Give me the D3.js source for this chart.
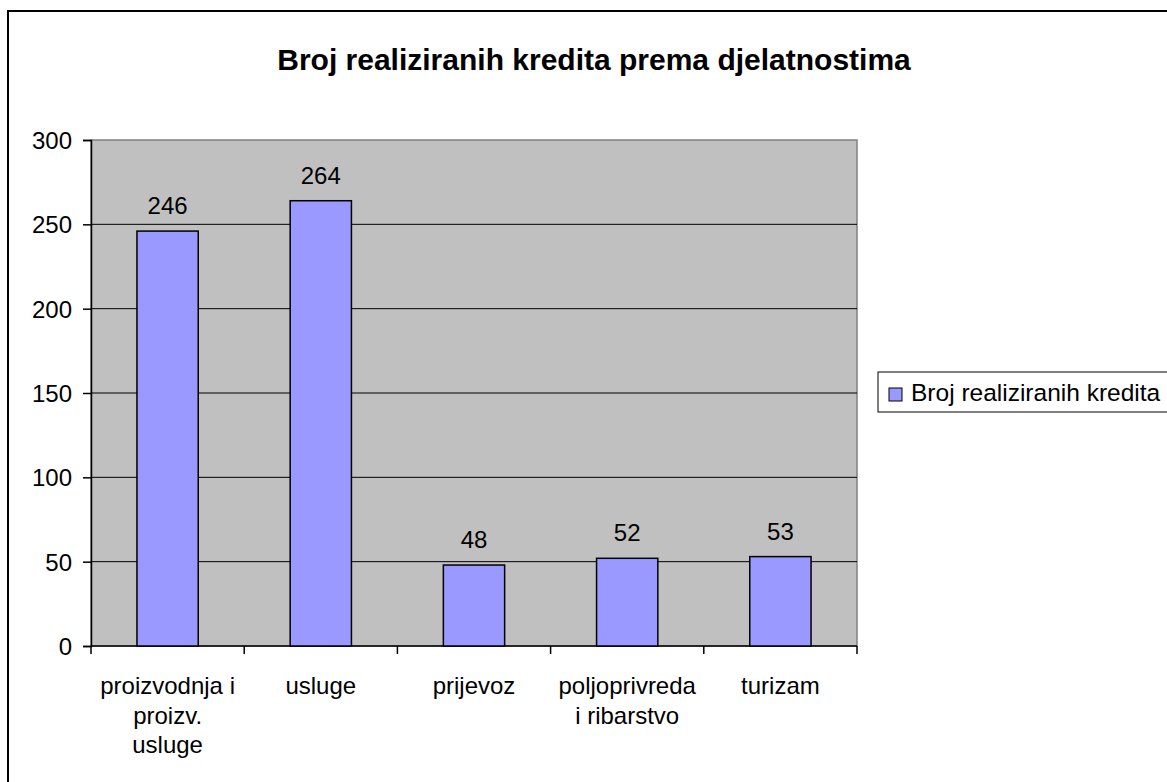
<!DOCTYPE html>
<html>
<head>
<meta charset="utf-8">
<script src="https://cdn.jsdelivr.net/npm/d3@7"></script>
<style>
  body { margin: 0; background: #fff; }
  svg text { font-family: "Liberation Sans", Arial, sans-serif; fill: #000; }
</style>
</head>
<body>
<svg id="chart" width="1167" height="782"></svg>
<script>
// data
const categories = [
  ["proizvodnja i", "proizv.", "usluge"],
  ["usluge"],
  ["prijevoz"],
  ["poljoprivreda", "i ribarstvo"],
  ["turizam"]
];
const values = [246, 264, 48, 52, 53];
const yTicks = [0, 50, 100, 150, 200, 250, 300];
const seriesName = "Broj realiziranih kredita";
const title = "Broj realiziranih kredita prema djelatnostima";

const svg = d3.select("#chart");
const plot = {left: 91, right: 857, top: 140, bottom: 646};

// outer frame
svg.append("rect")
  .attr("x", 8).attr("y", 11)
  .attr("width", 1200).attr("height", 800)
  .attr("fill", "none")
  .attr("stroke", "#000")
  .attr("stroke-width", 2);

svg.append("text")
  .attr("x", 594).attr("y", 70)
  .attr("text-anchor", "middle")
  .attr("font-weight", "bold")
  .attr("font-size", 30)
  .text(title);

const x = d3.scaleBand()
  .domain(d3.range(values.length))
  .range([plot.left, plot.right]);

const y = d3.scaleLinear()
  .domain([0, 300])
  .range([plot.bottom, plot.top]);

// plot area
svg.append("rect")
  .attr("x", plot.left).attr("y", plot.top)
  .attr("width", plot.right - plot.left)
  .attr("height", plot.bottom - plot.top)
  .attr("fill", "#c0c0c0")
  .attr("stroke", "#808080")
  .attr("stroke-width", 1.5);

// gridlines
svg.append("g")
  .selectAll("line")
  .data(yTicks.filter(d => d > 0 && d < 300))
  .enter()
  .append("line")
  .attr("x1", plot.left).attr("x2", plot.right)
  .attr("y1", d => y(d)).attr("y2", d => y(d))
  .attr("stroke", "#000")
  .attr("stroke-width", 1);

// y axis
const yAxis = svg.append("g")
  .attr("transform", `translate(${plot.left},0)`)
  .call(d3.axisLeft(y).tickValues(yTicks).tickSize(8).tickPadding(11));
yAxis.select(".domain").attr("stroke", "#000").attr("stroke-width", 1.5);
yAxis.selectAll(".tick line").attr("stroke", "#000").attr("stroke-width", 1.5);
yAxis.selectAll("text")
  .attr("font-size", 24)
  .attr("font-family", "Liberation Sans, Arial, sans-serif")
  .attr("dy", "0.36em");

// x axis
const xAxis = svg.append("g")
  .attr("transform", `translate(0,${plot.bottom})`);
xAxis.append("line")
  .attr("x1", plot.left).attr("x2", plot.right)
  .attr("stroke", "#000").attr("stroke-width", 1.5);
xAxis.selectAll(".xt")
  .data(d3.range(values.length + 1))
  .enter()
  .append("line")
  .attr("x1", d => plot.left + d * x.step())
  .attr("x2", d => plot.left + d * x.step())
  .attr("y1", 0).attr("y2", 8)
  .attr("stroke", "#000").attr("stroke-width", 1.5);

const catLabels = xAxis.selectAll(".cat")
  .data(categories)
  .enter()
  .append("text")
  .attr("text-anchor", "middle")
  .attr("font-size", 24)
  .attr("transform", (d, i) => `translate(${x(i) + x.bandwidth() / 2},0)`);
catLabels.selectAll("tspan")
  .data(d => d)
  .enter()
  .append("tspan")
  .attr("x", 0)
  .attr("y", (d, i) => 48 + i * 29.5)
  .text(d => d);

// bars
const barW = x.bandwidth() * 0.4;
svg.append("g")
  .selectAll("rect")
  .data(values)
  .enter()
  .append("rect")
  .attr("x", (d, i) => x(i) + (x.bandwidth() - barW) / 2)
  .attr("y", d => y(d))
  .attr("width", barW)
  .attr("height", d => y(0) - y(d))
  .attr("fill", "#9999ff")
  .attr("stroke", "#000")
  .attr("stroke-width", 1.5);

// value labels
svg.append("g")
  .selectAll("text")
  .data(values)
  .enter()
  .append("text")
  .attr("x", (d, i) => x(i) + x.bandwidth() / 2)
  .attr("y", d => y(d) - 17)
  .attr("text-anchor", "middle")
  .attr("font-size", 24)
  .text(d => d);

// legend
const legend = svg.append("g");
legend.append("rect")
  .attr("x", 878).attr("y", 372)
  .attr("width", 320).attr("height", 40)
  .attr("fill", "#fff")
  .attr("stroke", "#000")
  .attr("stroke-width", 1);
legend.append("rect")
  .attr("x", 889).attr("y", 388)
  .attr("width", 13).attr("height", 13)
  .attr("fill", "#9999ff")
  .attr("stroke", "#000")
  .attr("stroke-width", 1);
legend.append("text")
  .attr("x", 911).attr("y", 401)
  .attr("font-size", 24.5)
  .text(seriesName);
</script>
</body>
</html>
